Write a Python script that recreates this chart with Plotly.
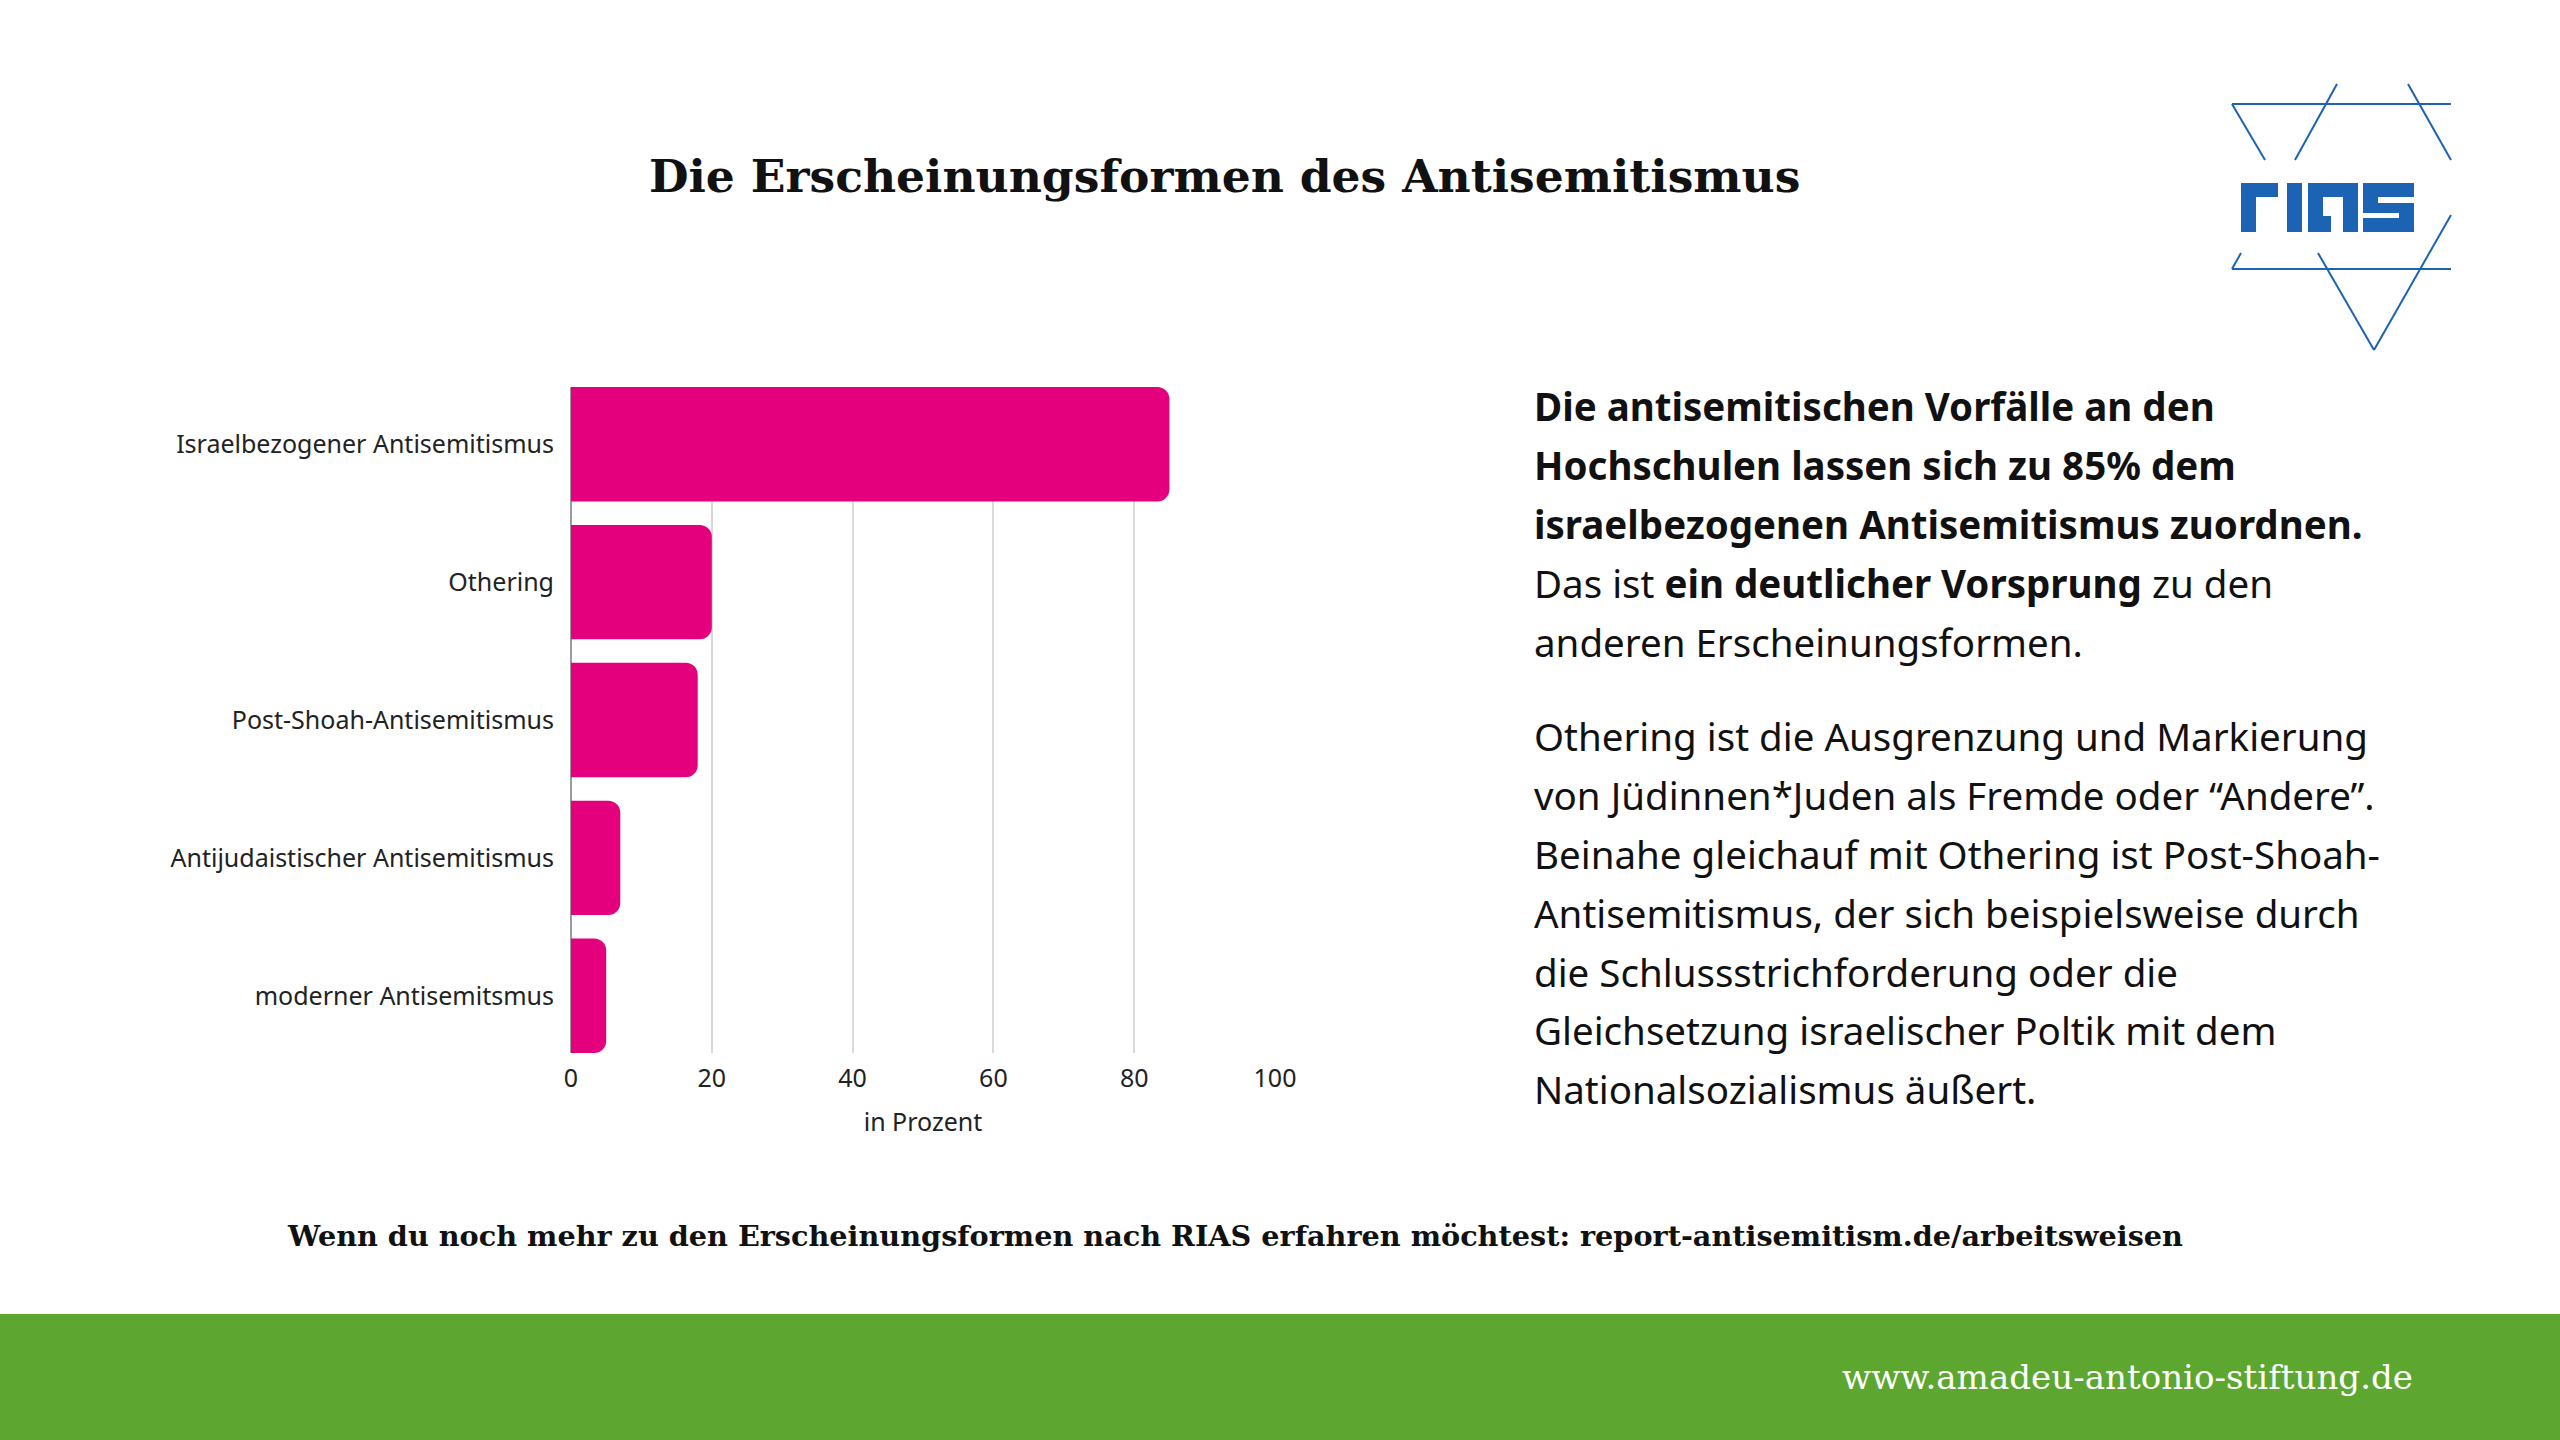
import plotly.graph_objects as go

# ---------------- data ----------------
categories = [
    "Israelbezogener Antisemitismus",
    "Othering",
    "Post-Shoah-Antisemitismus",
    "Antijudaistischer Antisemitismus",
    "moderner Antisemitsmus",
]
values = [85, 20, 18, 7, 5]
x_ticks = [0, 20, 40, 60, 80, 100]

title_text = "Die Erscheinungsformen des Antisemitismus"
axis_title = "in Prozent"
para_lines = [
    "<b>Die antisemitischen Vorfälle an den</b>",
    "<b>Hochschulen lassen sich zu 85% dem</b>",
    "<b>israelbezogenen Antisemitismus zuordnen.</b>",
    "Das ist <b>ein deutlicher Vorsprung</b> zu den",
    "anderen Erscheinungsformen.",
    "Othering ist die Ausgrenzung und Markierung",
    "von Jüdinnen*Juden als Fremde oder “Andere”.",
    "Beinahe gleichauf mit Othering ist Post-Shoah-",
    "Antisemitismus, der sich beispielsweise durch",
    "die Schlussstrichforderung oder die",
    "Gleichsetzung israelischer Poltik mit dem",
    "Nationalsozialismus äußert.",
]
footnote = "Wenn du noch mehr zu den Erscheinungsformen nach RIAS erfahren möchtest: report-antisemitism.de/arbeitsweisen"
url_text = "www.amadeu-antonio-stiftung.de"

# ---------------- layout helpers ----------------
W, H = 2560, 1440
def px(x):
    return x / W
def py(y):
    return 1 - y / H

BAR = "#e4007c"
GREEN = "#5da730"
BLUE = "#1d63b4"
TXT = "#111111"

bar_w = 0.83
n = len(categories)

fig = go.Figure(
    go.Bar(
        x=values,
        y=categories,
        orientation="h",
        marker=dict(color=BAR, line=dict(width=0)),
        hoverinfo="x+y",
    )
)

fig.update_layout(
    width=W,
    height=H,
    margin=dict(l=0, r=0, t=0, b=0, autoexpand=False),
    paper_bgcolor="white",
    plot_bgcolor="white",
    showlegend=False,
    bargap=1 - bar_w,
    barcornerradius=12,
    font=dict(family="Noto Sans", color=TXT),
)

fig.update_xaxes(
    domain=[px(571), px(1275)],
    range=[0, 100],
    tickvals=x_ticks,
    ticks="",
    showgrid=True,
    gridcolor="#d9d9d9",
    gridwidth=1.5,
    zeroline=True,
    zerolinecolor="#9a9a9a",
    zerolinewidth=1.5,
    showline=False,
    tickfont=dict(family="Noto Sans", size=25, color="#222222"),
    ticklabelstandoff=8,
    title=dict(text=axis_title, font=dict(family="Noto Sans", size=25, color="#222222"), standoff=20),
    fixedrange=True,
    automargin=False,
)
fig.update_yaxes(
    domain=[py(1053), py(387)],
    type="category",
    categoryorder="array",
    categoryarray=categories,
    range=[n - 1 + bar_w / 2, -bar_w / 2],
    ticks="",
    showgrid=False,
    showline=False,
    tickfont=dict(family="Noto Sans", size=25, color="#222222"),
    ticklabelstandoff=16,
    fixedrange=True,
    automargin=False,
)

shapes = []
# green footer band
shapes.append(dict(type="rect", xref="paper", yref="paper", x0=0, x1=1, y0=0, y1=py(1314),
                   fillcolor=GREEN, line=dict(width=0), layer="below"))

# RIAS logo: star lines
logo_lines = [
    ((2232, 104), (2451, 104)),
    ((2232, 269), (2451, 269)),
    ((2337, 84), (2295, 160)),
    ((2408, 84), (2451, 160)),
    ((2232, 104), (2265, 160)),
    ((2318, 253), (2374, 350)),
    ((2451, 215), (2374, 350)),
    ((2241, 253), (2232, 269)),
]
for (x0, y0), (x1, y1) in logo_lines:
    shapes.append(dict(type="line", xref="paper", yref="paper",
                       x0=px(x0), y0=py(y0), x1=px(x1), y1=py(y1),
                       line=dict(color=BLUE, width=2)))
# RIAS logo: letter blocks
logo_blocks = [
    (2241, 183, 2256, 232), (2241, 183, 2278, 197),            # r
    (2287, 183, 2302, 232),                                    # i
    (2308, 183, 2323, 232), (2343, 183, 2358, 232),            # a
    (2308, 183, 2358, 197), (2323, 216, 2331, 232),
    (2363, 183, 2414, 197), (2363, 183, 2378, 213),            # s
    (2363, 203, 2414, 213), (2399, 203, 2414, 232),
    (2363, 218, 2414, 232),
]
for x0, y0, x1, y1 in logo_blocks:
    shapes.append(dict(type="rect", xref="paper", yref="paper",
                       x0=px(x0), y0=py(y1), x1=px(x1), y1=py(y0),
                       fillcolor=BLUE, line=dict(width=0)))

annotations = []
annotations.append(dict(text="<b>" + title_text + "</b>", xref="paper", yref="paper",
                        x=px(1224), y=py(176), xanchor="center", yanchor="middle",
                        showarrow=False, font=dict(family="DejaVu Serif", size=45.6, color=TXT)))

line_y = [406, 465, 524, 583, 642, 736, 795, 854, 913, 972, 1030, 1089]
for t, yy in zip(para_lines, line_y):
    annotations.append(dict(text=t, xref="paper", yref="paper", x=px(1532), y=py(yy),
                            xanchor="left", yanchor="middle", showarrow=False, align="left",
                            font=dict(family="Noto Sans", size=38.5, color=TXT)))

annotations.append(dict(text="<b>" + footnote + "</b>", xref="paper", yref="paper",
                        x=px(1235), y=py(1236), xanchor="center", yanchor="middle",
                        showarrow=False, font=dict(family="DejaVu Serif", size=28.7, color=TXT)))
annotations.append(dict(text=url_text, xref="paper", yref="paper",
                        x=px(2415), y=py(1377), xanchor="right", yanchor="middle",
                        showarrow=False, font=dict(family="DejaVu Serif", size=34.1, color="white")))

fig.update_layout(shapes=shapes, annotations=annotations)

fig.write_html(
    "out.html",
    config={"displayModeBar": False},
    post_script="document.body.style.margin='0';document.body.style.overflow='hidden';",
)
